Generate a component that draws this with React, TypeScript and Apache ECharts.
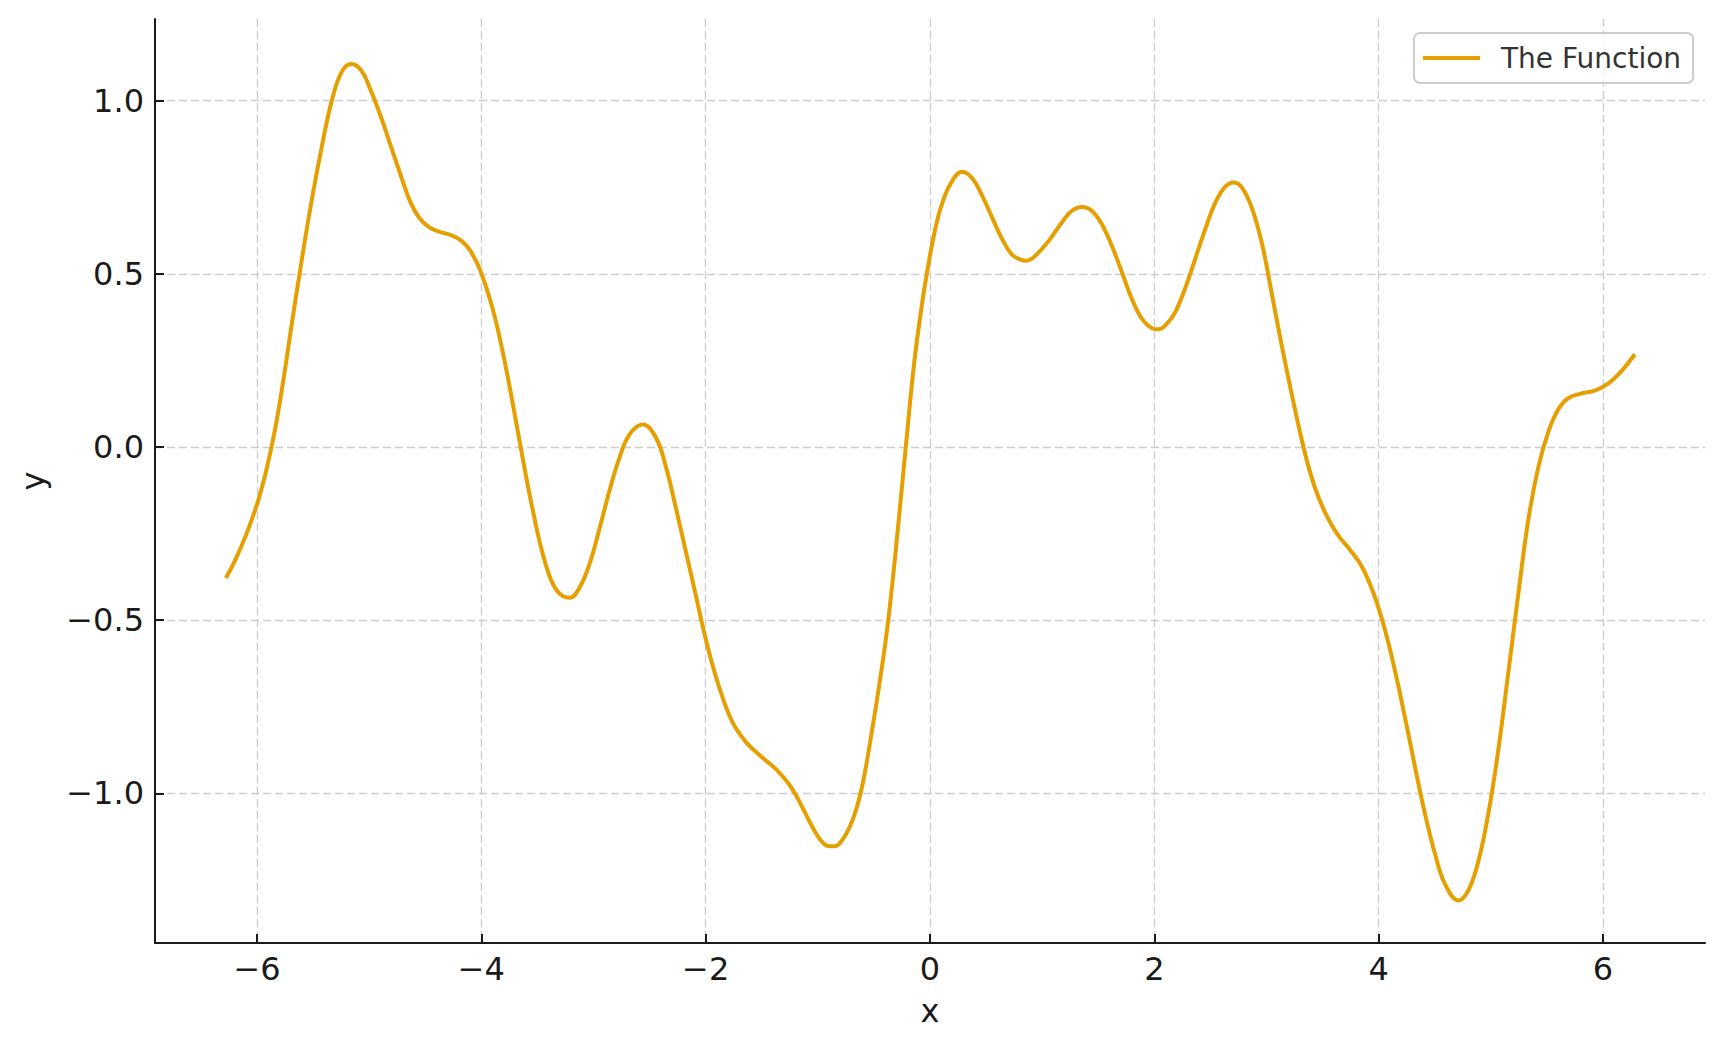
import React, { useEffect, useRef } from "react";
import * as echarts from "echarts";

const X_VALUES = [
  -6.278, -6.2, -6.1, -6.0, -5.916, -5.84, -5.767, -5.693, -5.604, -5.515, -5.426, -5.337, -5.248, -5.159,
  -5.07, -4.98, -4.89, -4.8, -4.71, -4.63, -4.55, -4.47, -4.38, -4.28, -4.18, -4.1, -4.01, -3.9, -3.81, -3.72,
  -3.63, -3.54, -3.45, -3.36, -3.27, -3.21, -3.125, -3.036, -2.947, -2.858, -2.77, -2.68, -2.56, -2.443, -2.354,
  -2.265, -2.16, -2.086, -2.027, -1.953, -1.864, -1.76, -1.641, -1.508, -1.374, -1.27, -1.196, -1.12, -1.047,
  -0.98, -0.91, -0.855, -0.766, -0.677, -0.602, -0.528, -0.454, -0.38, -0.306, -0.216, -0.142, -0.068, -0.009,
  0.036, 0.095, 0.184, 0.288, 0.38, 0.466, 0.555, 0.644, 0.73, 0.808, 0.86, 0.941, 1.06, 1.179, 1.268, 1.357,
  1.446, 1.535, 1.624, 1.713, 1.802, 1.891, 1.98, 2.04, 2.13, 2.188, 2.277, 2.366, 2.455, 2.544, 2.633, 2.708,
  2.782, 2.871, 2.96, 3.049, 3.138, 3.227, 3.301, 3.361, 3.435, 3.524, 3.628, 3.746, 3.85, 3.94, 4.014, 4.087,
  4.176, 4.266, 4.325, 4.414, 4.503, 4.592, 4.711, 4.8, 4.89, 4.978, 5.068, 5.156, 5.246, 5.334, 5.424, 5.513,
  5.602, 5.69, 5.809, 5.928, 6.046, 6.165, 6.284,
];

const Y_VALUES = [
  -0.378, -0.33, -0.255, -0.165, -0.065, 0.05, 0.19, 0.35, 0.535, 0.709, 0.862, 0.996, 1.082, 1.106, 1.087,
  1.025, 0.948, 0.862, 0.776, 0.705, 0.66, 0.636, 0.622, 0.613, 0.596, 0.567, 0.51, 0.4, 0.275, 0.125, -0.035,
  -0.185, -0.312, -0.397, -0.431, -0.435, -0.406, -0.338, -0.236, -0.126, -0.032, 0.036, 0.065, 0.027, -0.058,
  -0.177, -0.326, -0.431, -0.517, -0.613, -0.709, -0.795, -0.852, -0.893, -0.93, -0.968, -1.005, -1.052,
  -1.098, -1.133, -1.152, -1.153, -1.127, -1.065, -0.975, -0.84, -0.69, -0.52, -0.3, 0.0, 0.24, 0.42, 0.537,
  0.613, 0.69, 0.761, 0.795, 0.775, 0.725, 0.662, 0.6, 0.556, 0.541, 0.538, 0.553, 0.596, 0.65, 0.683, 0.693,
  0.681, 0.642, 0.579, 0.503, 0.426, 0.37, 0.343, 0.34, 0.363, 0.39, 0.46, 0.545, 0.63, 0.706, 0.752, 0.764,
  0.749, 0.689, 0.587, 0.44, 0.29, 0.15, 0.04, -0.04, -0.12, -0.19, -0.25, -0.297, -0.345, -0.41, -0.48, -0.565,
  -0.69, -0.83, -0.925, -1.06, -1.175, -1.262, -1.309, -1.28, -1.195, -1.059, -0.873, -0.652, -0.423, -0.211,
  -0.058, 0.044, 0.109, 0.141, 0.155, 0.163, 0.183, 0.219, 0.268,
];

const X_TICKS = [-6, -4, -2, 0, 2, 4, 6];
const Y_TICKS = [-1.0, -0.5, 0.0, 0.5, 1.0];
const SERIES_NAME = "The Function";

const FONT = "DejaVu Sans";
const MINUS = "\u2212";

export default function App() {
  const ref = useRef<HTMLDivElement>(null);

  useEffect(() => {
    if (!ref.current) return;
    const chart = echarts.init(ref.current, null, { renderer: "svg" });
    const data = X_VALUES.map((x, i) => [x, Y_VALUES[i]]);
    const gridLine = { show: true, lineStyle: { color: "#cccccc", width: 1.3, type: [8, 4] as any } };

    chart.setOption({
      animation: false,
      backgroundColor: "#ffffff",
      grid: { left: 155, right: 20, top: 19, bottom: 107, containLabel: false },
      legend: {
        show: true,
        left: 1414,
        top: 33,
        orient: "horizontal",
        padding: [11, 12, 11, 9],
        backgroundColor: "rgba(255,255,255,0.8)",
        borderColor: "#cccccc",
        borderWidth: 2,
        borderRadius: 6,
        itemWidth: 57,
        itemHeight: 4,
        data: [{ name: SERIES_NAME, icon: "rect" }],
        textStyle: { fontFamily: FONT, fontSize: 28, color: "#333333", padding: [0, 0, 0, 16] },
      },
      xAxis: {
        type: "value",
        min: -6.91,
        max: 6.91,
        name: "x",
        nameLocation: "middle",
        nameGap: 52,
        nameTextStyle: { fontFamily: FONT, fontSize: 32, color: "#1a1a1a" },
        axisLine: { show: true, onZero: false, lineStyle: { color: "#1a1a1a", width: 2 } },
        axisTick: { show: true, inside: true, length: 9, customValues: X_TICKS, lineStyle: { color: "#1a1a1a", width: 2 } },
        axisLabel: {
          customValues: X_TICKS,
          fontFamily: FONT,
          fontSize: 32,
          color: "#1a1a1a",
          margin: 10,
          formatter: (v: number) => (v < 0 ? MINUS : "") + Math.abs(v).toString(),
        },
        splitLine: gridLine,
      },
      yAxis: {
        type: "value",
        min: -1.432,
        max: 1.236,
        name: "y",
        nameLocation: "middle",
        nameGap: 106,
        nameRotate: 90,
        nameTextStyle: { fontFamily: FONT, fontSize: 32, color: "#1a1a1a" },
        axisLine: { show: true, onZero: false, lineStyle: { color: "#1a1a1a", width: 2 } },
        axisTick: { show: true, inside: true, length: 9, customValues: Y_TICKS, lineStyle: { color: "#1a1a1a", width: 2 } },
        axisLabel: {
          customValues: Y_TICKS,
          fontFamily: FONT,
          fontSize: 32,
          color: "#1a1a1a",
          margin: 11,
          formatter: (v: number) => (v < 0 ? MINUS : "") + Math.abs(v).toFixed(1),
        },
        splitLine: gridLine,
      },
      series: [
        {
          name: SERIES_NAME,
          type: "line",
          data,
          smooth: 0.4,
          showSymbol: false,
          color: "#E69F00",
          lineStyle: { color: "#E69F00", width: 4 },
        },
      ],
    });

    return () => chart.dispose();
  }, []);

  return (
    <div
      ref={ref}
      style={{ position: "fixed", left: 0, top: 0, width: 1725, height: 1050, background: "#fff" }}
    />
  );
}
